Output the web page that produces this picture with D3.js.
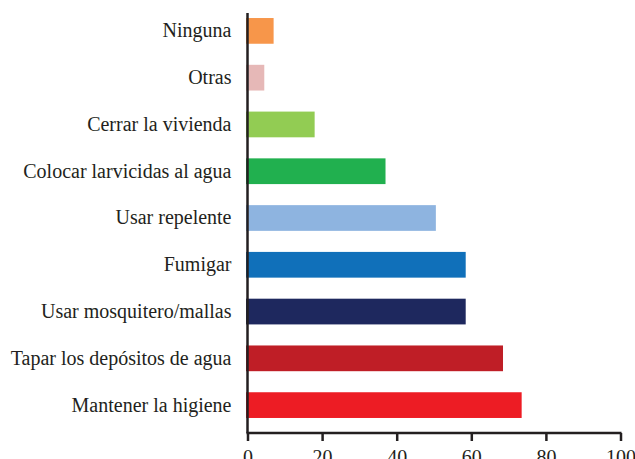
<!DOCTYPE html>
<html><head><meta charset="utf-8">
<script src="https://cdn.jsdelivr.net/npm/d3@7"></script>
<style>body{margin:0;background:#fff}svg{display:block}</style>
</head><body>
<script>
const categories = ["Ninguna","Otras","Cerrar la vivienda","Colocar larvicidas al agua","Usar repelente","Fumigar","Usar mosquitero/mallas","Tapar los depósitos de agua","Mantener la higiene"];
const values = [7, 4.5, 18, 37, 50.5, 58.5, 58.5, 68.5, 73.5];
const colors = ["#F7964A","#E6B8B7","#92CC53","#21B04F","#8EB4E0","#1070BA","#1E285E","#BF1E26","#ED1C24"];
const xTicks = [0,20,40,60,80,100];

const W=635,H=459, FONT='"Liberation Serif", "Times New Roman", serif';
const svg=d3.select("body").append("svg").attr("width",W).attr("height",H);
const x=d3.scaleLinear().domain([0,100]).range([247.5,620.5]);
const y=d3.scaleBand().domain(categories).range([7.5,428.5]).paddingInner(0.45).paddingOuter(0.225);

svg.selectAll("rect.bar").data(categories).join("rect").attr("class","bar")
 .attr("x",x(0)-1.5).attr("y",d=>y(d)).attr("height",y.bandwidth())
 .attr("width",(d,i)=>x(values[i])-x(0)+1.5).attr("fill",(d,i)=>colors[i]);

const gy=svg.append("g").attr("transform",`translate(${x(0)},0)`)
 .call(d3.axisLeft(y).tickSize(0).tickPadding(16));
gy.attr("font-family",FONT).attr("font-size",20);
gy.select(".domain").attr("d","M0,13V433").attr("stroke","#231f20").attr("stroke-width",2.5);
gy.selectAll("text").attr("font-family",FONT).attr("font-size",20).attr("fill","#231f20");

const gx=svg.append("g").attr("transform","translate(0,433)")
 .call(d3.axisBottom(x).tickValues(xTicks).tickSize(8).tickPadding(9));
gx.attr("font-family",FONT).attr("font-size",20);
gx.select(".domain").attr("d",`M${x(0)-1},0H${x(100)+1}`).attr("stroke","#231f20").attr("stroke-width",2.5);
gx.selectAll(".tick line").attr("stroke","#231f20").attr("stroke-width",2.5);
gx.selectAll("text").attr("font-family",FONT).attr("font-size",20).attr("fill","#231f20");
</script>
</body></html>
